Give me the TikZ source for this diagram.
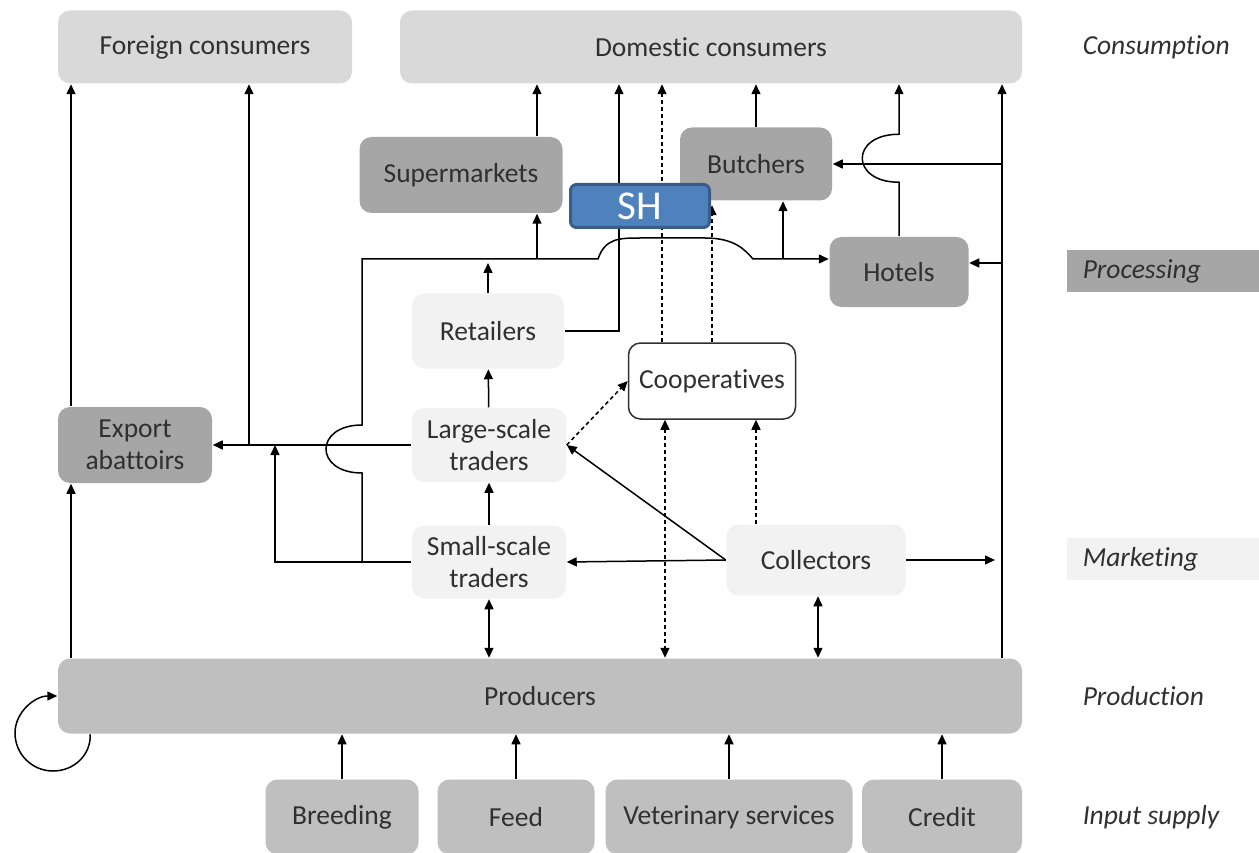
\documentclass[tikz,border=0pt]{standalone}
\usepackage{fontspec}
\setmainfont{Carlito}[Ligatures=NoCommon]
\usetikzlibrary{positioning, arrows.meta}
\definecolor{consume}{HTML}{D9D9D9}
\definecolor{process}{HTML}{A6A6A6}
\definecolor{market}{HTML}{F2F2F2}
\definecolor{produce}{HTML}{BFBFBF}
\definecolor{inktext}{HTML}{303030}
\definecolor{shfill}{HTML}{4F81BD}
\definecolor{shline}{HTML}{385D8A}

\begin{document}
\begin{tikzpicture}[x=1pt,y=-1pt,line width=1.5pt,
  >={Triangle[length=10pt,width=9pt]},
  font=\fontsize{27.5}{32}\selectfont,
  box/.style={rectangle,rounded corners=12pt,align=center,text=inktext,inner sep=0pt},
  consbox/.style={box,fill=consume},
  procbox/.style={box,fill=process},
  tradebox/.style={box,fill=market},
  prodbox/.style={box,fill=produce},
  coopbox/.style={box,draw=inktext,fill=white},
  shbox/.style={rectangle,rounded corners=6pt,fill=shfill,draw=shline,line width=3pt,
    text=white,font=\fontsize{41}{44}\selectfont,minimum width=139pt,minimum height=43pt},
  stagelabel/.style={anchor=west,inner xsep=16pt,inner ysep=0pt,text width=161pt,
    minimum height=42pt,align=flush left,text=inktext,font=\fontsize{27.5}{32}\selectfont\itshape},
  flowdash/.style={dash pattern=on 4pt off 3pt}]

  \useasboundingbox (0,0) rectangle (1259,853);

  \node[consbox, minimum width=294pt, minimum height=73pt] (foreign) at (205,47) {Foreign consumers};
  \node[consbox, minimum width=622pt, minimum height=73pt] (domestic) at (711,47) {Domestic consumers};
  \node[procbox, minimum width=203pt, minimum height=76pt] (super) at (461,175) {Supermarkets};
  \node[procbox, minimum width=152pt, minimum height=73pt] (butcher) at (756,164) {Butchers};
  \node[procbox, minimum width=139pt, minimum height=70pt] (hotel) at (899,272) {Hotels};
  \node[tradebox, minimum width=152pt, minimum height=75pt] (retail) at (488,331) {Retailers};
  \node[coopbox, minimum width=167pt, minimum height=76pt] (coop) at (712,381) {Cooperatives};
  \node[procbox, minimum width=154pt, minimum height=76pt] (export) at (135,445) {Export\\abattoirs};
  \node[tradebox, minimum width=154pt, minimum height=74pt] (large) at (489,445) {Large-scale\\traders};
  \node[tradebox, minimum width=154pt, minimum height=73pt] (small) at (489,562) {Small-scale\\traders};
  \node[tradebox, minimum width=179pt, minimum height=71pt] (collect) at (816,560) {Collectors};
  \node[prodbox, minimum width=964pt, minimum height=75pt] (prod) at (540,696) {Producers};
  \node[prodbox, minimum width=153pt, minimum height=75pt] (breed) at (342,817) {Breeding};
  \node[prodbox, minimum width=157pt, minimum height=75pt] (feed) at (516,817) {Feed};
  \node[prodbox, minimum width=247pt, minimum height=75pt] (vet) at (729,817) {Veterinary services};
  \node[prodbox, minimum width=160pt, minimum height=75pt] (credit) at (942,817) {Credit};

  \node[stagelabel] (lcons) at (1066,47) {Consumption};
  \node[stagelabel, fill=process] (lproc) at (1066,271) {Processing};
  \node[stagelabel, fill=market] (lmark) at (1066,559) {Marketing};
  \node[stagelabel] (lprod) at (1066,696) {Production};
  \node[stagelabel] (linput) at (1066,817) {Input supply};

  \coordinate (xa) at (71,0);
  \coordinate (xb) at (249,0);
  \coordinate (xc) at (275,0);
  \coordinate (xd) at (362,0);
  \coordinate (xe) at (537,0);
  \coordinate (xf) at (619,0);
  \coordinate (xg) at (662,0);
  \coordinate (xl) at (665,0);
  \coordinate (xh) at (712,0);
  \coordinate (xm) at (756,0);
  \coordinate (xi) at (783,0);
  \coordinate (xn) at (818,0);
  \coordinate (xj) at (899,0);
  \coordinate (xk) at (1002,0);
  \coordinate (ya) at (0,259);
  \coordinate (yb) at (0,263);

  \draw[->] (prod.north -| xa) -- (export.south -| xa);
  \draw[->] (export.north -| xa) -- (foreign.south -| xa);
  \draw[->] (large.west) -- (export.east);
  \draw[->] (large.west -| xb) -- (foreign.south -| xb);
  \draw[->] (small.west) -- (small.west -| xc) -- (large.west -| xc);
  \draw[->] (small.west -| xd) -- ++(0,-89) .. controls +(-48,0) and +(-48,0) .. ++(0,-48)
    -- (xd |- ya) -- (598,259) .. controls (605,238) and (620,238) .. (640,238)
    -- (705,238) .. controls (735,238) and (745,250) .. (753,259) -- (hotel.west |- ya);
  \draw[->] (xe |- ya) -- (super.south -| xe);
  \draw[->] (xi |- ya) -- (butcher.south -| xi);
  \draw[->, shorten >=4pt] (retail.north) -- (retail.north |- ya);
  \draw[->] (super.north -| xe) -- (domestic.south -| xe);
  \draw[->] (retail.east) -- (retail.east -| xf) -- (domestic.south -| xf);
  \draw[->] (butcher.north) -- (butcher.north |- domestic.south);
  \draw[->] (hotel.north -| xj) -- ++(0,-54) .. controls +(-49,0) and +(-49,0) .. ++(0,-48)
    -- (domestic.south -| xj);
  \draw[->] (prod.north -| xk) -- (domestic.south -| xk);
  \draw[->] (butcher.east -| xk) -- (butcher.east);
  \draw[->] (xk |- yb) -- (hotel.east |- yb);
  \draw[->, shorten >=7pt] (collect.east) -- (collect.east -| xk);

  \path[->]
    (small) edge (large)
    (large) edge (retail)
    (collect.west) edge (small.east)
                   edge (large.east);
  \draw[<->] (small.south) -- (small.south |- prod.north);
  \draw[<->] (collect.south -| xn) -- (prod.north -| xn);

  \draw[->, flowdash] (large.east) -- (coop.west);
  \draw[->, flowdash] (coop.north -| xg) -- (domestic.south -| xg);
  \draw[->, flowdash, shorten >=4pt] (coop.north -| xh) -- (butcher.south -| xh);
  \draw[<->, flowdash] (coop.south -| xl) -- (prod.north -| xl);
  \draw[->, flowdash] (collect.north -| xm) -- (coop.south -| xm);

  \foreach \n in {breed,feed,vet,credit}
    \draw[->] (\n.north) -- (\n.north |- prod.south);

  \draw[->] ([xshift=33pt]prod.south west) .. controls (91,755) and (74,771) .. (53,771)
    .. controls (32,771) and (15,754) .. (15,733) .. controls (15,712) and (35,696) .. (prod.west);

  \node[shbox] (sh) at (640,206) {SH};
\end{tikzpicture}
\end{document}
